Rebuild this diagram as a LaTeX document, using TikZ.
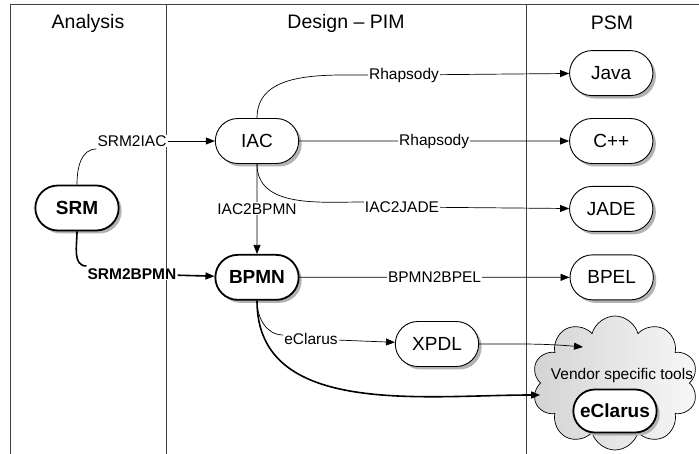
\documentclass[tikz,border=0pt]{standalone}
\usepackage{fontspec}
\setmainfont{Liberation Sans}
\usetikzlibrary{positioning,shapes.misc,shapes.symbols,shadows,arrows.meta}

\tikzset{
  stage/.style={rounded rectangle, draw, fill=white, line width=0.9pt,
    minimum width=90pt, minimum height=45pt,
    drop shadow={shadow xshift=3pt, shadow yshift=-3pt, fill=black!30, opacity=1},
    font=\fontsize{19}{22}\selectfont},
  key stage/.style={stage, line width=1.8pt, font=\fontsize{19}{22}\selectfont\bfseries},
  head/.style={font=\fontsize{19.5}{22}\selectfont},
  tag/.style={fill=white, inner sep=1pt, font=\fontsize{15.5}{18}\selectfont},
  conn/.style={line width=0.7pt},
  heavy/.style={line width=1.6pt},
  arr/.style={-{Triangle[length=9pt,width=7pt]}},
}

\begin{document}
\begin{tikzpicture}[x=1pt,y=-1pt]
  \useasboundingbox (0,0) rectangle (699,454);

  \draw[line width=1pt, black!75] (10,454) -- (10,5) -- (699,5)
    (166,5) -- (166,454) (526,5) -- (526,454);

  \node[head] (h1) at (88,23) {Analysis};
  \node[head] (h2) at (346,23) {Design -- PIM};
  \node[head] (h3) at (612,23) {PSM};

  \node[key stage] (srm) at (77,208) {SRM};
  \node[stage] (iac) at (257,141) {IAC};
  \node[key stage, below=90pt of iac] (bpmn) {BPMN};
  \node[stage, right=270pt of iac] (cpp) {C++};
  \node[stage, above=22pt of cpp] (java) {Java};
  \node[stage, below=22pt of cpp] (jade) {JADE};
  \node[stage, right=270pt of bpmn] (bpel) {BPEL};
  \node[stage] (xpdl) at (437,344) {XPDL};

  \node[cloud, cloud puffs=10, aspect=1.3, draw, line width=0.7pt,
    minimum width=166pt, minimum height=134pt,
    left color=black!17, right color=black!3] (tools) at (615,383) {};
  \node[head, font=\fontsize{15.5}{18}\selectfont] (vst) at (622,375) {Vendor specific tools};
  \node[key stage, minimum height=43pt] (ecl) at (615,411) {eClarus};

  \node[tag] (t1) at (132,141) {SRM2IAC};
  \node[tag, font=\fontsize{15.5}{18}\selectfont\bfseries] (t2) at (132,274) {SRM2BPMN};
  \node[tag] (t3) at (404,75) {Rhapsody};
  \node[tag] (t6) at (402,207) {IAC2JADE};
  \node[tag] (t8) at (311,339) {eClarus};

  \draw[conn] (srm.north) to[out=90,in=180] ([yshift=-8pt]t1.west);
  \draw[conn,arr] (t1) -- (iac);
  \draw[heavy] (srm.south) to[out=-90,in=180] ([yshift=8pt]t2.west);
  \draw[heavy,arr] (t2) -- (bpmn);

  \draw[conn] (iac.north) to[out=90,in=180] (t3.west);
  \draw[conn,arr] (t3) -- (java);
  \draw[conn,arr] (iac) -- node[tag] (t4) {Rhapsody} (cpp);
  \draw[conn,arr] (iac) -- node[tag] (t5) {IAC2BPMN} (bpmn);
  \draw[conn] (iac.south) to[out=-90,in=180] ([yshift=5pt]t6.west);
  \draw[conn,arr] (t6) -- (jade);

  \draw[conn,arr] (bpmn) -- node[tag] (t7) {BPMN2BPEL} (bpel);
  \draw[conn] (bpmn.south) to[out=-90,in=180] ([yshift=4pt]t8.west);
  \draw[conn,arr] (t8) -- (xpdl);
  \draw[conn,arr] (xpdl.east) to[out=0,in=175] ([xshift=-32pt,yshift=36pt]tools.center);
  \draw[heavy,arr] (bpmn.south) to[out=-90,in=180] ([yshift=-12pt]tools.west);
\end{tikzpicture}
\end{document}
